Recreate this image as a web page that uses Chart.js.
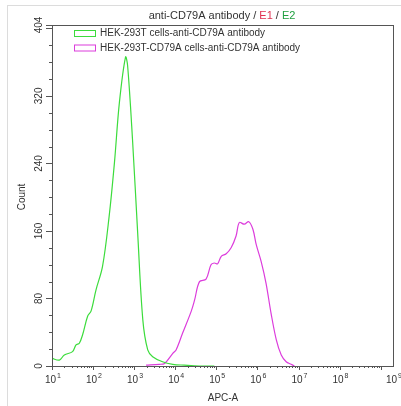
<!DOCTYPE html>
<html>
<head>
<meta charset="utf-8">
<script src="https://cdn.jsdelivr.net/npm/chart.js@4"></script>
<style>
  html, body { margin: 0; padding: 0; background: #fff; }
  #wrap { position: relative; width: 401px; height: 406px; }
</style>
</head>
<body>
<div id="wrap"><canvas id="c" width="401" height="406"></canvas></div>
<script>
// x positions are in decades (log10 of APC-A), y is count
const seriesNames = ['HEK-293T cells-anti-CD79A antibody', 'HEK-293T-CD79A cells-anti-CD79A antibody'];
const greenX = [1.0, 1.18, 1.30, 1.50, 1.585, 1.665, 1.745, 1.867, 1.95, 2.07, 2.23, 2.39, 2.52, 2.64, 2.79, 2.84, 2.96, 3.085, 3.21, 3.33, 3.45, 3.69, 3.94, 4.22, 4.59, 4.95];
const greenY = [9, 7, 13, 17, 25, 27, 37, 59, 65, 90, 118, 177, 241, 312, 366, 356, 268, 158, 55, 19, 11, 5, 2, 1, 0, 0];
const magentaX = [3.29, 3.61, 3.74, 3.94, 4.02, 4.18, 4.39, 4.47, 4.59, 4.75, 4.87, 4.95, 5.03, 5.12, 5.24, 5.36, 5.48, 5.56, 5.68, 5.79, 5.89, 5.97, 6.09, 6.21, 6.33, 6.46, 6.58, 6.70, 6.82, 6.90];
const magentaY = [1, 2, 3, 15, 19, 39, 65, 78, 100, 103, 120, 122, 121, 130, 133, 140, 154, 170, 168, 171, 162, 144, 124, 98, 63, 31, 13, 5, 2, 0];
const yTickLabels = [0, 80, 160, 240, 320, 404];
const yMinorStep = 20;
const xTickExps = [1, 2, 3, 4, 5, 6, 7, 8, 9.3];
const xMin = 1, xMax = 9.3, yMax = 404;

const FONT = '"Liberation Sans", "Noto Sans", sans-serif';
const green = 'rgb(60,220,60)';
const magenta = 'rgb(220,60,220)';

function toPoints(xs, ys) {
    return xs.map((x, i) => ({ x: x, y: ys[i] }));
}

const axesPlugin = {
    id: 'flowAxes',
    afterDraw(chart) {
        const ctx = chart.ctx;
        const area = chart.chartArea;
        const xs = chart.scales.x;
        const ys = chart.scales.y;
        ctx.save();

        // outer panel border
        ctx.strokeStyle = '#dcdcdc';
        ctx.lineWidth = 1;
        ctx.strokeRect(7.5, 5.5, 400, 410);

        // plot frame
        ctx.strokeStyle = '#555';
        ctx.strokeRect(area.left + 0.5, area.top + 0.5, area.right - area.left, area.bottom - area.top);

        // y ticks
        ctx.fillStyle = '#333';
        for (let v = 0; v <= yMax; v += yMinorStep) {
            const py = Math.round(ys.getPixelForValue(v)) + 0.5;
            const major = v % 80 === 0;
            ctx.beginPath();
            ctx.moveTo(area.left - (major ? 6 : 3), py);
            ctx.lineTo(area.left, py);
            ctx.stroke();
        }
        ctx.font = '10px ' + FONT;
        ctx.textAlign = 'center';
        ctx.textBaseline = 'middle';
        yTickLabels.forEach(v => {
            const py = ys.getPixelForValue(v);
            ctx.beginPath();
            ctx.moveTo(area.left - 6, Math.round(py) + 0.5);
            ctx.lineTo(area.left, Math.round(py) + 0.5);
            ctx.stroke();
            ctx.save();
            ctx.translate(39, py);
            ctx.rotate(-Math.PI / 2);
            ctx.fillText(String(v), 0, 0);
            ctx.restore();
        });

        // x ticks (log decades)
        for (let d = 1; d < 10; d++) {
            for (let m = 1; m <= 9; m++) {
                const e = d + Math.log10(m);
                if (e > xMax) break;
                const px = Math.round(xs.getPixelForValue(e)) + 0.5;
                ctx.beginPath();
                ctx.moveTo(px, area.bottom);
                ctx.lineTo(px, area.bottom + (m === 1 ? 4 : 2));
                ctx.stroke();
            }
        }
        xTickExps.forEach(e => {
            const px = xs.getPixelForValue(e);
            ctx.font = '10px ' + FONT;
            ctx.textAlign = 'right';
            ctx.textBaseline = 'middle';
            ctx.fillText('10', px + 4, 380);
            ctx.font = '7px ' + FONT;
            ctx.textAlign = 'left';
            ctx.fillText(String(e), px + 5, 376);
        });

        // axis titles
        ctx.font = '10px ' + FONT;
        ctx.textAlign = 'center';
        ctx.fillText('APC-A', 223, 398);
        ctx.save();
        ctx.translate(22, 197);
        ctx.rotate(-Math.PI / 2);
        ctx.fillText('Count', 0, 0);
        ctx.restore();

        // title with coloured gates
        ctx.font = '11px ' + FONT;
        ctx.textAlign = 'left';
        const parts = [['anti-CD79A antibody / ', '#333'], ['E1', '#e03050'], [' / ', '#333'], ['E2', '#20a040']];
        const total = parts.reduce((s, p) => s + ctx.measureText(p[0]).width, 0);
        let tx = 222 - total / 2;
        parts.forEach(p => {
            ctx.fillStyle = p[1];
            ctx.fillText(p[0], tx, 15.5);
            tx += ctx.measureText(p[0]).width;
        });

        // legend inside plot
        ctx.font = '10px ' + FONT;
        const colors = [green, magenta];
        seriesNames.forEach((name, i) => {
            const cy = 33.5 + i * 14.5;
            ctx.strokeStyle = colors[i];
            ctx.strokeRect(74.5, cy - 3, 21, 6);
            ctx.fillStyle = '#333';
            ctx.fillText(name, 100, cy);
        });
        ctx.restore();
    }
};

new Chart(document.getElementById('c'), {
    type: 'line',
    data: {
        datasets: [{
            label: seriesNames[0],
            data: toPoints(greenX, greenY),
            borderColor: green,
            borderWidth: 1.2,
            pointRadius: 0,
            tension: 0.35,
            fill: false
        }, {
            label: seriesNames[1],
            data: toPoints(magentaX, magentaY),
            borderColor: magenta,
            borderWidth: 1.2,
            pointRadius: 0,
            tension: 0.35,
            fill: false
        }]
    },
    options: {
        responsive: false,
        animation: false,
        layout: { padding: { left: 52, top: 25, right: 8, bottom: 40 } },
        plugins: {
            legend: { display: false },
            title: { display: false },
            tooltip: { enabled: false }
        },
        scales: {
            x: { type: 'linear', min: xMin, max: xMax, display: false },
            y: { type: 'linear', min: 0, max: yMax, display: false }
        }
    },
    plugins: [axesPlugin]
});
</script>
</body>
</html>
